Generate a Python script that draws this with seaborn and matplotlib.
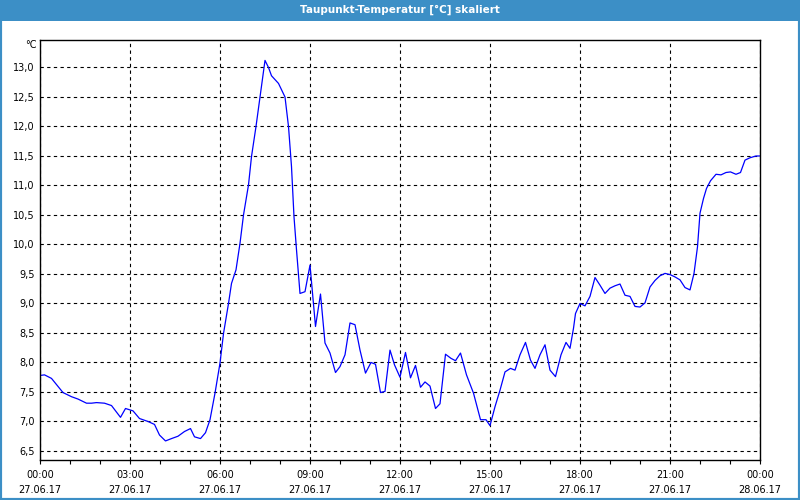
import matplotlib
matplotlib.use("Agg")
import matplotlib.pyplot as plt
import matplotlib.dates as mdates
from matplotlib.patches import Rectangle
from matplotlib.ticker import FixedLocator, FixedFormatter
import seaborn as sns
import pandas as pd

title = "Taupunkt-Temperatur [°C] skaliert"
unit = "°C"
start_date = "2017-06-27"

# minutes after midnight (27.06.17)
minutes = [0, 9, 23, 46, 63, 76, 93, 103, 113, 129, 143, 161, 171, 186, 199, 216,
           229, 239, 251, 263, 276, 289, 301, 309, 321, 331, 340, 350, 360, 367,
           377, 383, 392, 400, 407, 417, 423, 432, 440, 450, 457, 463, 477, 490,
           497, 503, 508, 513, 520, 530, 540, 543, 551, 561, 570, 580, 591, 600,
           610, 620, 630, 640, 651, 662, 671, 681, 690, 700, 709, 720, 731, 741,
           751, 761, 770, 780, 791, 800, 811, 822, 831, 841, 853, 867, 881, 892,
           900, 910, 920, 930, 941, 950, 960, 971, 981, 990, 1000, 1010, 1020,
           1031, 1042, 1052, 1060, 1067, 1071, 1080, 1090, 1100, 1110, 1120, 1130,
           1140, 1150, 1160, 1170, 1180, 1190, 1200, 1210, 1220, 1230, 1240, 1250,
           1260, 1270, 1280, 1290, 1300, 1308, 1315, 1320, 1327, 1333, 1341, 1352,
           1362, 1372, 1381, 1392, 1401, 1410, 1420, 1432, 1440]
values = [7.78, 7.79, 7.73, 7.49, 7.42, 7.38, 7.31, 7.31, 7.32, 7.31, 7.27, 7.07,
          7.22, 7.18, 7.05, 7.00, 6.95, 6.77, 6.67, 6.71, 6.75, 6.83, 6.88, 6.74,
          6.71, 6.81, 7.03, 7.48, 7.99, 8.49, 9.00, 9.34, 9.57, 10.02, 10.50,
          11.01, 11.49, 12.00, 12.50, 13.12, 13.00, 12.86, 12.73, 12.50, 12.00,
          11.32, 10.47, 9.91, 9.17, 9.20, 9.65, 9.37, 8.61, 9.16, 8.33, 8.16,
          7.83, 7.93, 8.13, 8.67, 8.64, 8.21, 7.82, 8.00, 7.97, 7.49, 7.51, 8.21,
          7.96, 7.75, 8.17, 7.74, 7.95, 7.58, 7.67, 7.60, 7.22, 7.30, 8.14, 8.07,
          8.03, 8.16, 7.79, 7.48, 7.03, 7.03, 6.93, 7.25, 7.53, 7.84, 7.90, 7.87,
          8.13, 8.34, 8.04, 7.90, 8.13, 8.30, 7.87, 7.76, 8.13, 8.34, 8.24, 8.58,
          8.83, 9.00, 8.96, 9.12, 9.44, 9.31, 9.17, 9.26, 9.30, 9.33, 9.14, 9.12,
          8.95, 8.94, 9.01, 9.28, 9.39, 9.47, 9.51, 9.49, 9.45, 9.40, 9.27, 9.23,
          9.51, 9.96, 10.53, 10.78, 10.95, 11.08, 11.19, 11.18, 11.22, 11.23,
          11.19, 11.22, 11.43, 11.47, 11.50, 11.50]

y_ticks = [6.5, 7.0, 7.5, 8.0, 8.5, 9.0, 9.5, 10.0, 10.5, 11.0, 11.5, 12.0, 12.5, 13.0]
y_tick_labels = ["6,5", "7,0", "7,5", "8,0", "8,5", "9,0", "9,5", "10,0", "10,5",
                 "11,0", "11,5", "12,0", "12,5", "13,0"]

df = pd.DataFrame({
    "time": pd.Timestamp(start_date) + pd.to_timedelta(minutes, unit="min"),
    "value": values,
})

sns.set_style("white")
plt.rcParams["font.family"] = ["DejaVu Sans"]

fig = plt.figure(figsize=(8, 5), dpi=100, facecolor="white")
ax = fig.add_axes([0.05, 0.08, 0.90, 0.84])

sns.lineplot(data=df, x="time", y="value", ax=ax, color="#0000ff", linewidth=0.9)

t0 = pd.Timestamp(start_date)
ax.set_xlim(t0, t0 + pd.Timedelta(hours=24))
ax.set_ylim(6.347, 13.466)

ax.xaxis.set_major_locator(mdates.HourLocator(byhour=range(0, 24, 3)))
ax.xaxis.set_major_formatter(mdates.DateFormatter("%H:%M\n%d.%m.%y"))
ax.xaxis.set_minor_locator(mdates.HourLocator())
ax.yaxis.set_major_locator(FixedLocator(y_ticks))
ax.yaxis.set_major_formatter(FixedFormatter(y_tick_labels))

ax.set_xlabel("")
ax.set_ylabel("")
ax.grid(True, which="major", color="black", linestyle=(0, (3, 3)), linewidth=0.8)
for sp in ax.spines.values():
    sp.set_visible(True)
    sp.set_color("black")
    sp.set_linewidth(1.0)

ax.tick_params(axis="x", which="both", direction="out", length=3, width=0.8,
               colors="black", labelsize=7, pad=4, bottom=True)
for lab in ax.get_xticklabels():
    lab.set_linespacing(1.65)
ax.tick_params(axis="y", which="both", length=0, labelsize=7, pad=4, colors="black")

# title bar
fig.patches.append(Rectangle((0, 1 - 21 / 500), 1, 21 / 500, transform=fig.transFigure,
                             facecolor="#3c8fc6", edgecolor="none", zorder=0))
fig.patches.append(Rectangle((0.0, 0.0), 1.0, 1.0, transform=fig.transFigure,
                             facecolor="none", edgecolor="#3c8fc6", linewidth=3, zorder=1))
fig.text(0.5, 1 - 10 / 500, title, ha="center", va="center", color="white",
         fontsize=7.5, fontweight="bold")
fig.text(37 / 800, 1 - 45 / 500, unit, ha="right", va="center", fontsize=7, color="black")

fig.savefig("out.png", dpi=100, facecolor=fig.get_facecolor())
